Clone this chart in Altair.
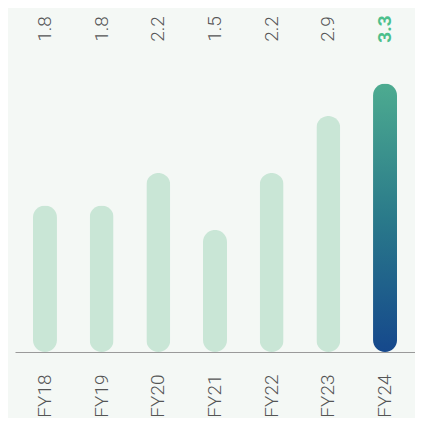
import altair as alt
import pandas as pd

years = ["FY18", "FY19", "FY20", "FY21", "FY22", "FY23", "FY24"]
values = [1.8, 1.8, 2.2, 1.5, 2.2, 2.9, 3.3]
labels = ["1.8", "1.8", "2.2", "1.5", "2.2", "2.9", "3.3"]
highlight = [False, False, False, False, False, False, True]

df = pd.DataFrame({"year": years, "value": values, "label": labels, "hl": highlight})

x = alt.X(
    "year:N",
    sort=years,
    scale=alt.Scale(paddingInner=0.5, paddingOuter=0.279),
    axis=alt.Axis(
        title=None,
        labelAngle=270,
        ticks=False,
        labelPadding=22,
        labelFontSize=19,
        labelFont="Roboto",
        labelFontWeight=300,
        labelColor="#555555",
        domainColor="#9a9a9a",
        domainWidth=1.2,
        grid=False,
    ),
)
y = alt.Y("value:Q", scale=alt.Scale(domain=[0, 3.6], nice=False), axis=None)

base = alt.Chart(df)

bars_plain = base.transform_filter("!datum.hl").mark_bar(
    size=24, cornerRadius=12, color="#c9e6d6"
).encode(x=x, y=y)

grad = alt.LinearGradient(
    gradient="linear",
    stops=[
        alt.GradientStop(color="#4dab90", offset=0),
        alt.GradientStop(color="#2a7a8a", offset=0.5),
        alt.GradientStop(color="#15488c", offset=1),
    ],
    x1=0, x2=0, y1=0, y2=1,
)
bars_hl = base.transform_filter("datum.hl").mark_bar(
    size=24, cornerRadius=12, color=grad
).encode(x=x, y=y)

txt_plain = base.transform_filter("!datum.hl").mark_text(
    angle=270, align="center", baseline="middle", fontSize=19,
    font="Roboto", fontWeight=300, color="#555555"
).encode(x=x, y=alt.value(-30), text="label:N")

txt_hl = base.transform_filter("datum.hl").mark_text(
    angle=270, align="center", baseline="middle", fontSize=19,
    font="Roboto", fontWeight="bold", color="#4cc08c"
).encode(x=x, y=alt.value(-30), text="label:N")

chart = alt.layer(bars_plain, bars_hl, txt_plain, txt_hl).properties(
    width=400,
    height=293,
    background="#f4f8f5",
    padding={"left": 7, "top": 51, "right": 0, "bottom": 66},
    autosize=alt.AutoSizeParams(type="none"),
).configure_view(stroke=None)

chart.save("out.html", embed_options={"renderer": "svg", "actions": False})
